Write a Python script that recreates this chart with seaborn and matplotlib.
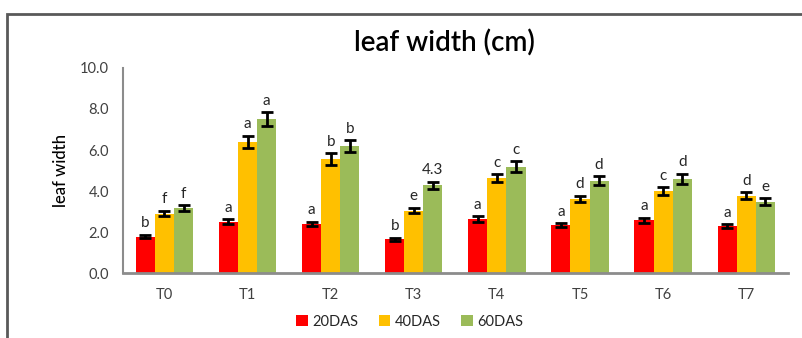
import matplotlib
matplotlib.use("Agg")
import matplotlib.pyplot as plt
import numpy as np
import pandas as pd
import seaborn as sns
from matplotlib.patches import Rectangle

treatments = ["T0", "T1", "T2", "T3", "T4", "T5", "T6", "T7"]
stages = ["20DAS", "40DAS", "60DAS"]

das20 = [1.78, 2.5, 2.4, 1.65, 2.62, 2.33, 2.57, 2.28]
das40 = [2.9, 6.4, 5.55, 3.05, 4.62, 3.61, 4.01, 3.77]
das60 = [3.17, 7.5, 6.2, 4.28, 5.19, 4.49, 4.59, 3.48]

err20 = [0.08, 0.12, 0.1, 0.08, 0.14, 0.1, 0.12, 0.1]
err40 = [0.14, 0.3, 0.28, 0.14, 0.2, 0.16, 0.18, 0.16]
err60 = [0.14, 0.35, 0.28, 0.18, 0.26, 0.22, 0.24, 0.16]

lab20 = ["b", "a", "a", "b", "a", "a", "a", "a"]
lab40 = ["f", "a", "b", "e", "c", "d", "c", "d"]
lab60 = ["f", "a", "b", "4.3", "c", "d", "d", "e"]

colors = ["#FF0000", "#FFC000", "#9BBB59"]

rows = []
for vals, errs, labs, st in [(das20, err20, lab20, stages[0]),
                             (das40, err40, lab40, stages[1]),
                             (das60, err60, lab60, stages[2])]:
    for t, v, e, l in zip(treatments, vals, errs, labs):
        rows.append({"treatment": t, "stage": st, "width": v, "err": e, "label": l})
df = pd.DataFrame(rows)

sns.set_theme(style="white")
plt.rcParams["font.family"] = ["Lato", "DejaVu Sans"]

fig = plt.figure(figsize=(8.03, 3.38), dpi=100)
ax = fig.add_axes([0.153, 0.192, 0.828, 0.607])

sns.barplot(data=df, x="treatment", y="width", hue="stage", palette=colors,
            width=0.69, gap=0, saturation=1, errorbar=None, ax=ax,
            edgecolor="none", legend=True)

# error bars and letters, matched to the bars seaborn drew
for container, st in zip(ax.containers, stages):
    sub = df[df["stage"] == st].set_index("treatment").loc[treatments]
    xs = [p.get_x() + p.get_width() / 2 for p in container.patches]
    ax.errorbar(xs, sub["width"], yerr=sub["err"], fmt="none", ecolor="black",
                elinewidth=2, capsize=4, capthick=2)
    for x, v, e, l in zip(xs, sub["width"], sub["err"], sub["label"]):
        ax.text(x, v + e + 0.22, l, ha="center", va="bottom", fontsize=11,
                color="#262626")

ax.set_ylim(0, 10)
ax.set_yticks(np.arange(0, 10.1, 2))
ax.set_yticklabels([f"{v:.1f}" for v in np.arange(0, 10.1, 2)])
ax.set_xlim(-0.5, 7.5)
ax.tick_params(axis="both", length=0, labelsize=10.5, colors="#404040")
ax.tick_params(axis="x", pad=11)
ax.tick_params(axis="y", pad=10)
ax.set_xlabel("")
ax.set_ylabel("leaf width", fontsize=12, color="black", labelpad=8,
              fontweight="medium")
for s in ["top", "right"]:
    ax.spines[s].set_visible(False)
ax.spines["left"].set_color("#8c8c8c")
ax.spines["left"].set_linewidth(1.5)
ax.spines["bottom"].set_color("#8c8c8c")
ax.spines["bottom"].set_linewidth(2)

fig.text(0.554, 0.873, "leaf width (cm)", ha="center", va="center",
         fontsize=20, fontweight="semibold", color="black")

leg = ax.legend(loc="center", bbox_to_anchor=(0.51, 0.0475), bbox_transform=fig.transFigure,
                ncol=3, frameon=False, fontsize=10.5, handlelength=0.8, handleheight=0.8,
                handletextpad=0.3, columnspacing=1.4)
for t in leg.get_texts():
    t.set_color("#262626")

fig.patches.append(Rectangle((7 / 803, -0.1), 1.2, (338 - 14) / 338 + 0.1,
                             transform=fig.transFigure, fill=False,
                             edgecolor="#595959", linewidth=2))

fig.savefig("out.png", dpi=100)
